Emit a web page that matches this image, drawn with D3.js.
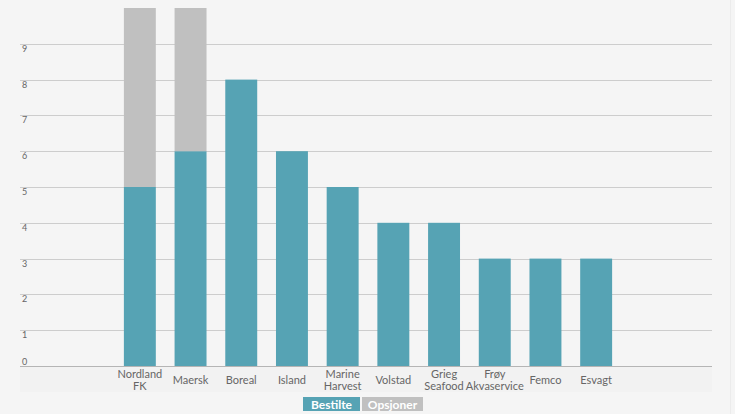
<!DOCTYPE html>
<html><head><meta charset="utf-8">
<script src="https://cdn.jsdelivr.net/npm/d3@7"></script>
<style>
html,body{margin:0;padding:0;background:#f5f5f5;}
svg{display:block;font-family:Lato,"Open Sans",sans-serif;}
</style></head><body>
<svg id="c" width="735" height="414"></svg>
<script>
const categories = [["Nordland","FK"],["Maersk"],["Boreal"],["Island"],["Marine","Harvest"],["Volstad"],["Grieg","Seafood"],["Frøy","Akvaservice"],["Femco"],["Esvagt"]];
const bestilte = [5,6,8,6,5,4,4,3,3,3];
const opsjoner = [5,4,0,0,0,0,0,0,0,0];
const yTicks = [0,1,2,3,4,5,6,7,8,9];
const seriesNames = ["Bestilte","Opsjoner"];
const colors = ["#56a3b4","#c0c0c0"];

(function(){
const svg = d3.select("#c");
const W = 735, H = 414;
const mLeft = 20, mRight = 712, mTop = 8, mBottom = 366;
svg.append("rect").attr("width",W).attr("height",H).attr("fill","#f5f5f5");
svg.append("rect").attr("x",mLeft).attr("y",mBottom).attr("width",mRight-mLeft).attr("height",26).attr("fill","#f2f2f2");
svg.append("line").attr("x1",730.5).attr("x2",730.5).attr("y1",0).attr("y2",H).attr("stroke","#ececec");

const keys = categories.map(c=>c.join(" "));
const x = d3.scaleBand().domain(keys).range([114.5,621.5]).paddingInner(0.37).paddingOuter(0.185);
const y = d3.scaleLinear().domain([0,10]).range([mBottom,mTop]);

const g = svg.append("g");
g.selectAll("line.grid").data(yTicks.filter(d=>d>0)).join("line")
 .attr("x1",mLeft).attr("x2",mRight)
 .attr("y1",d=>Math.round(y(d))+0.5).attr("y2",d=>Math.round(y(d))+0.5)
 .attr("stroke","#cdcdcd").attr("stroke-width",1);
g.selectAll("text.tick").data(yTicks).join("text")
 .attr("x",22).attr("y",d=>d===0? y(d)-1 : y(d)+8)
 .attr("font-size",9).attr("fill","#666").text(d=>d);

const stack = d3.stack().keys([0,1]).value((d,k)=> k===0? d.b : d.o);
const rows = keys.map((k,i)=>({k, b:bestilte[i], o:opsjoner[i]}));
const layers = stack(rows);
svg.append("g").selectAll("g").data(layers).join("g").attr("fill",(d,i)=>colors[i])
 .selectAll("rect").data(d=>d.filter(s=>s[1]>s[0])).join("rect")
 .attr("x",d=>x(d.data.k)).attr("width",x.bandwidth())
 .attr("y",d=>y(d[1])).attr("height",d=>y(d[0])-y(d[1]));

svg.append("line").attr("x1",mLeft).attr("x2",mRight).attr("y1",mBottom+0.5).attr("y2",mBottom+0.5).attr("stroke","#b5b5b5");

const xl = svg.append("g").selectAll("text").data(categories).join("text")
 .attr("text-anchor","middle").attr("font-size",11).attr("fill","#666")
 .attr("transform",(d,i)=>`translate(${x(keys[i])+x.bandwidth()/2},0)`);
xl.each(function(d){
  const t = d3.select(this);
  if(d.length===1){ t.append("tspan").attr("x",0).attr("y",384).text(d[0]); }
  else { t.append("tspan").attr("x",0).attr("y",378).text(d[0]); t.append("tspan").attr("x",0).attr("y",390).text(d[1]); }
});

const leg = [{n:seriesNames[0],c:colors[0],x:303,w:57},{n:seriesNames[1],c:colors[1],x:362,w:61}];
const lg = svg.append("g").selectAll("g").data(leg).join("g");
lg.append("rect").attr("x",d=>d.x).attr("y",397).attr("width",d=>d.w).attr("height",14).attr("fill",d=>d.c);
lg.append("text").attr("x",d=>d.x+d.w/2).attr("y",408.5).attr("text-anchor","middle")
 .attr("font-size",12).attr("font-weight","bold").attr("fill","#fff").text(d=>d.n);
})();
</script></body></html>
